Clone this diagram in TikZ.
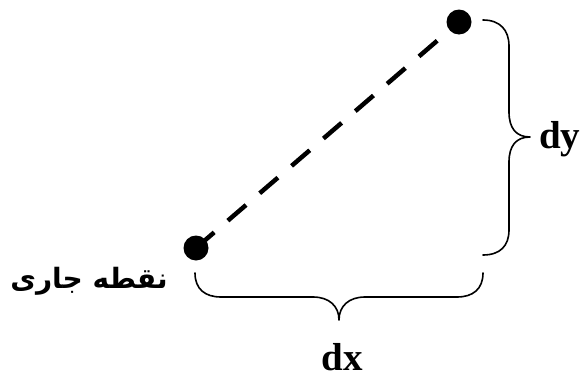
\documentclass[tikz,border=0pt]{standalone}
\usepackage{fontspec}
\setmainfont{Liberation Serif}
\newfontfamily\arabicfont[Script=Arabic]{DejaVu Sans}
\TeXXeTstate=1
\begin{document}
\begin{tikzpicture}[x=1pt,y=-1pt,
  dot/.style={circle,fill=black,inner sep=0pt,minimum size=25pt},
  dashline/.style={line width=4.5pt,dash pattern=on 24pt off 18pt},
  bracepath/.style={line width=1.6pt,line cap=round,line join=round},
  lbl/.style={font=\fontsize{39}{44}\selectfont\bfseries,inner sep=0pt},
  arlbl/.style={font=\arabicfont\bfseries\fontsize{28}{34}\selectfont,inner sep=0pt}]
\useasboundingbox (0,0) rectangle (584,375);
\coordinate (c1) at (196,248);
\coordinate (c2) at (459,22);
\draw[dashline] (c1) -- (c2);
\node[dot] (p1) at (c1) {};
\node[dot] (p2) at (c2) {};
% right brace
\coordinate (r1) at (483,20);
\coordinate (rt) at (530,137);
\coordinate (r2) at (483,255);
\draw[bracepath] (r1) .. controls (500,20) and (509,30) .. (509,46)
  -- (509,112) .. controls (509,128) and (516,137) .. (rt)
  .. controls (516,137) and (509,146) .. (509,162)
  -- (509,230) .. controls (509,246) and (500,255) .. (r2);
% bottom brace
\coordinate (b1) at (195,273);
\coordinate (bt) at (339,320);
\coordinate (b2) at (483,273);
\draw[bracepath] (b1) .. controls (195,289) and (205,297) .. (221,297)
  -- (313,297) .. controls (329,297) and (339,306) .. (bt)
  .. controls (339,306) and (349,297) .. (365,297)
  -- (457,297) .. controls (473,297) and (483,289) .. (b2);
\node[lbl,anchor=base west] (dy) at (539,148) {dy};
\node[lbl,anchor=base] (dx) at (342,370) {dx};
\node[arlbl] (cur) at (89,281) {\beginR نقطه جاری\endR};
\end{tikzpicture}
\end{document}
